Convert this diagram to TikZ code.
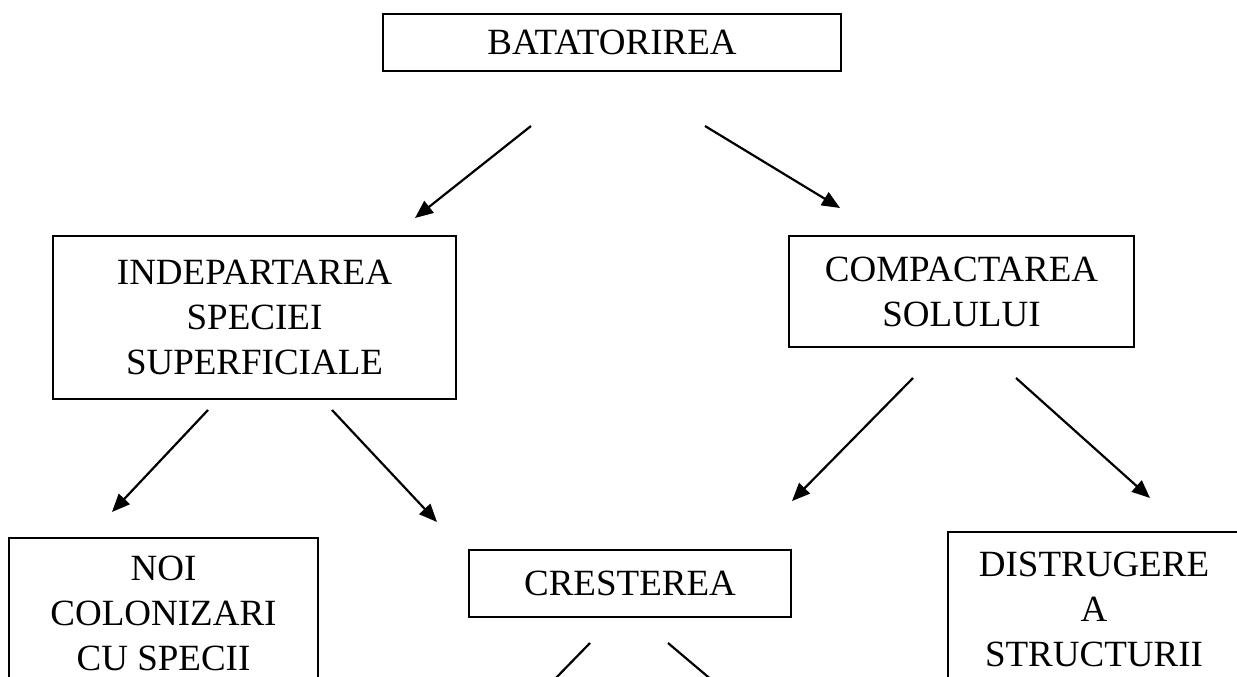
\documentclass[tikz,border=0pt]{standalone}
\usepackage{fontspec}
\setmainfont{Liberation Serif}
\usetikzlibrary{arrows.meta}
\tikzset{
  box/.style={draw, line width=1.4pt, inner sep=0pt, align=center,
    font=\fontsize{37}{45}\selectfont},
  arr/.style={line width=2.2pt, -{Triangle[length=18pt,width=15pt]}},
  plain/.style={line width=2.2pt}
}
\begin{document}
\begin{tikzpicture}[x=1pt,y=-1pt]
\useasboundingbox (0,0) rectangle (1237,677);
\clip (0,0) rectangle (1237,677);
\fill[white] (0,0) rectangle (1237,677);

\node[box, minimum width=458pt, minimum height=57pt] (bat) at (612,42.5) {BATATORIREA};
\node[box, minimum width=403pt, minimum height=163pt] (ind) at (254.5,317.5) {INDEPARTAREA\\SPECIEI\\SUPERFICIALE};
\node[box, minimum width=345pt, minimum height=111pt] (comp) at (961.5,291.5) {COMPACTAREA\\SOLULUI};
\node[box, minimum width=309pt, minimum height=150pt] (noi) at (163.5,613) {NOI\\COLONIZARI\\CU SPECII};
\node[box, minimum width=322pt, minimum height=67pt] (cre) at (630,583.5) {CRESTEREA};
\node[box, minimum width=292pt, minimum height=155pt] (dis) at (1094,609.5) {DISTRUGERE\\A\\STRUCTURII};

% connector end points
\coordinate (b1) at (531,126);  \coordinate (i1) at (415,218);
\coordinate (b2) at (705,126);  \coordinate (c1) at (840,208);
\coordinate (i2) at (208,410);  \coordinate (n1) at (112,512);
\coordinate (i3) at (332,410);  \coordinate (r1) at (437,522);
\coordinate (c2) at (913,378);  \coordinate (r2) at (792,501);
\coordinate (c3) at (1016,378); \coordinate (d1) at (1150,498);
\coordinate (r3) at (590,643);  \coordinate (e1) at (515,720);
\coordinate (r4) at (668,643);  \coordinate (e2) at (759,720);

\draw[arr] (b1) -- (i1);
\draw[arr] (b2) -- (c1);
\draw[arr] (i2) -- (n1);
\draw[arr] (i3) -- (r1);
\draw[arr] (c2) -- (r2);
\draw[arr] (c3) -- (d1);
\draw[plain] (r3) -- (e1);
\draw[plain] (r4) -- (e2);
\end{tikzpicture}
\end{document}
